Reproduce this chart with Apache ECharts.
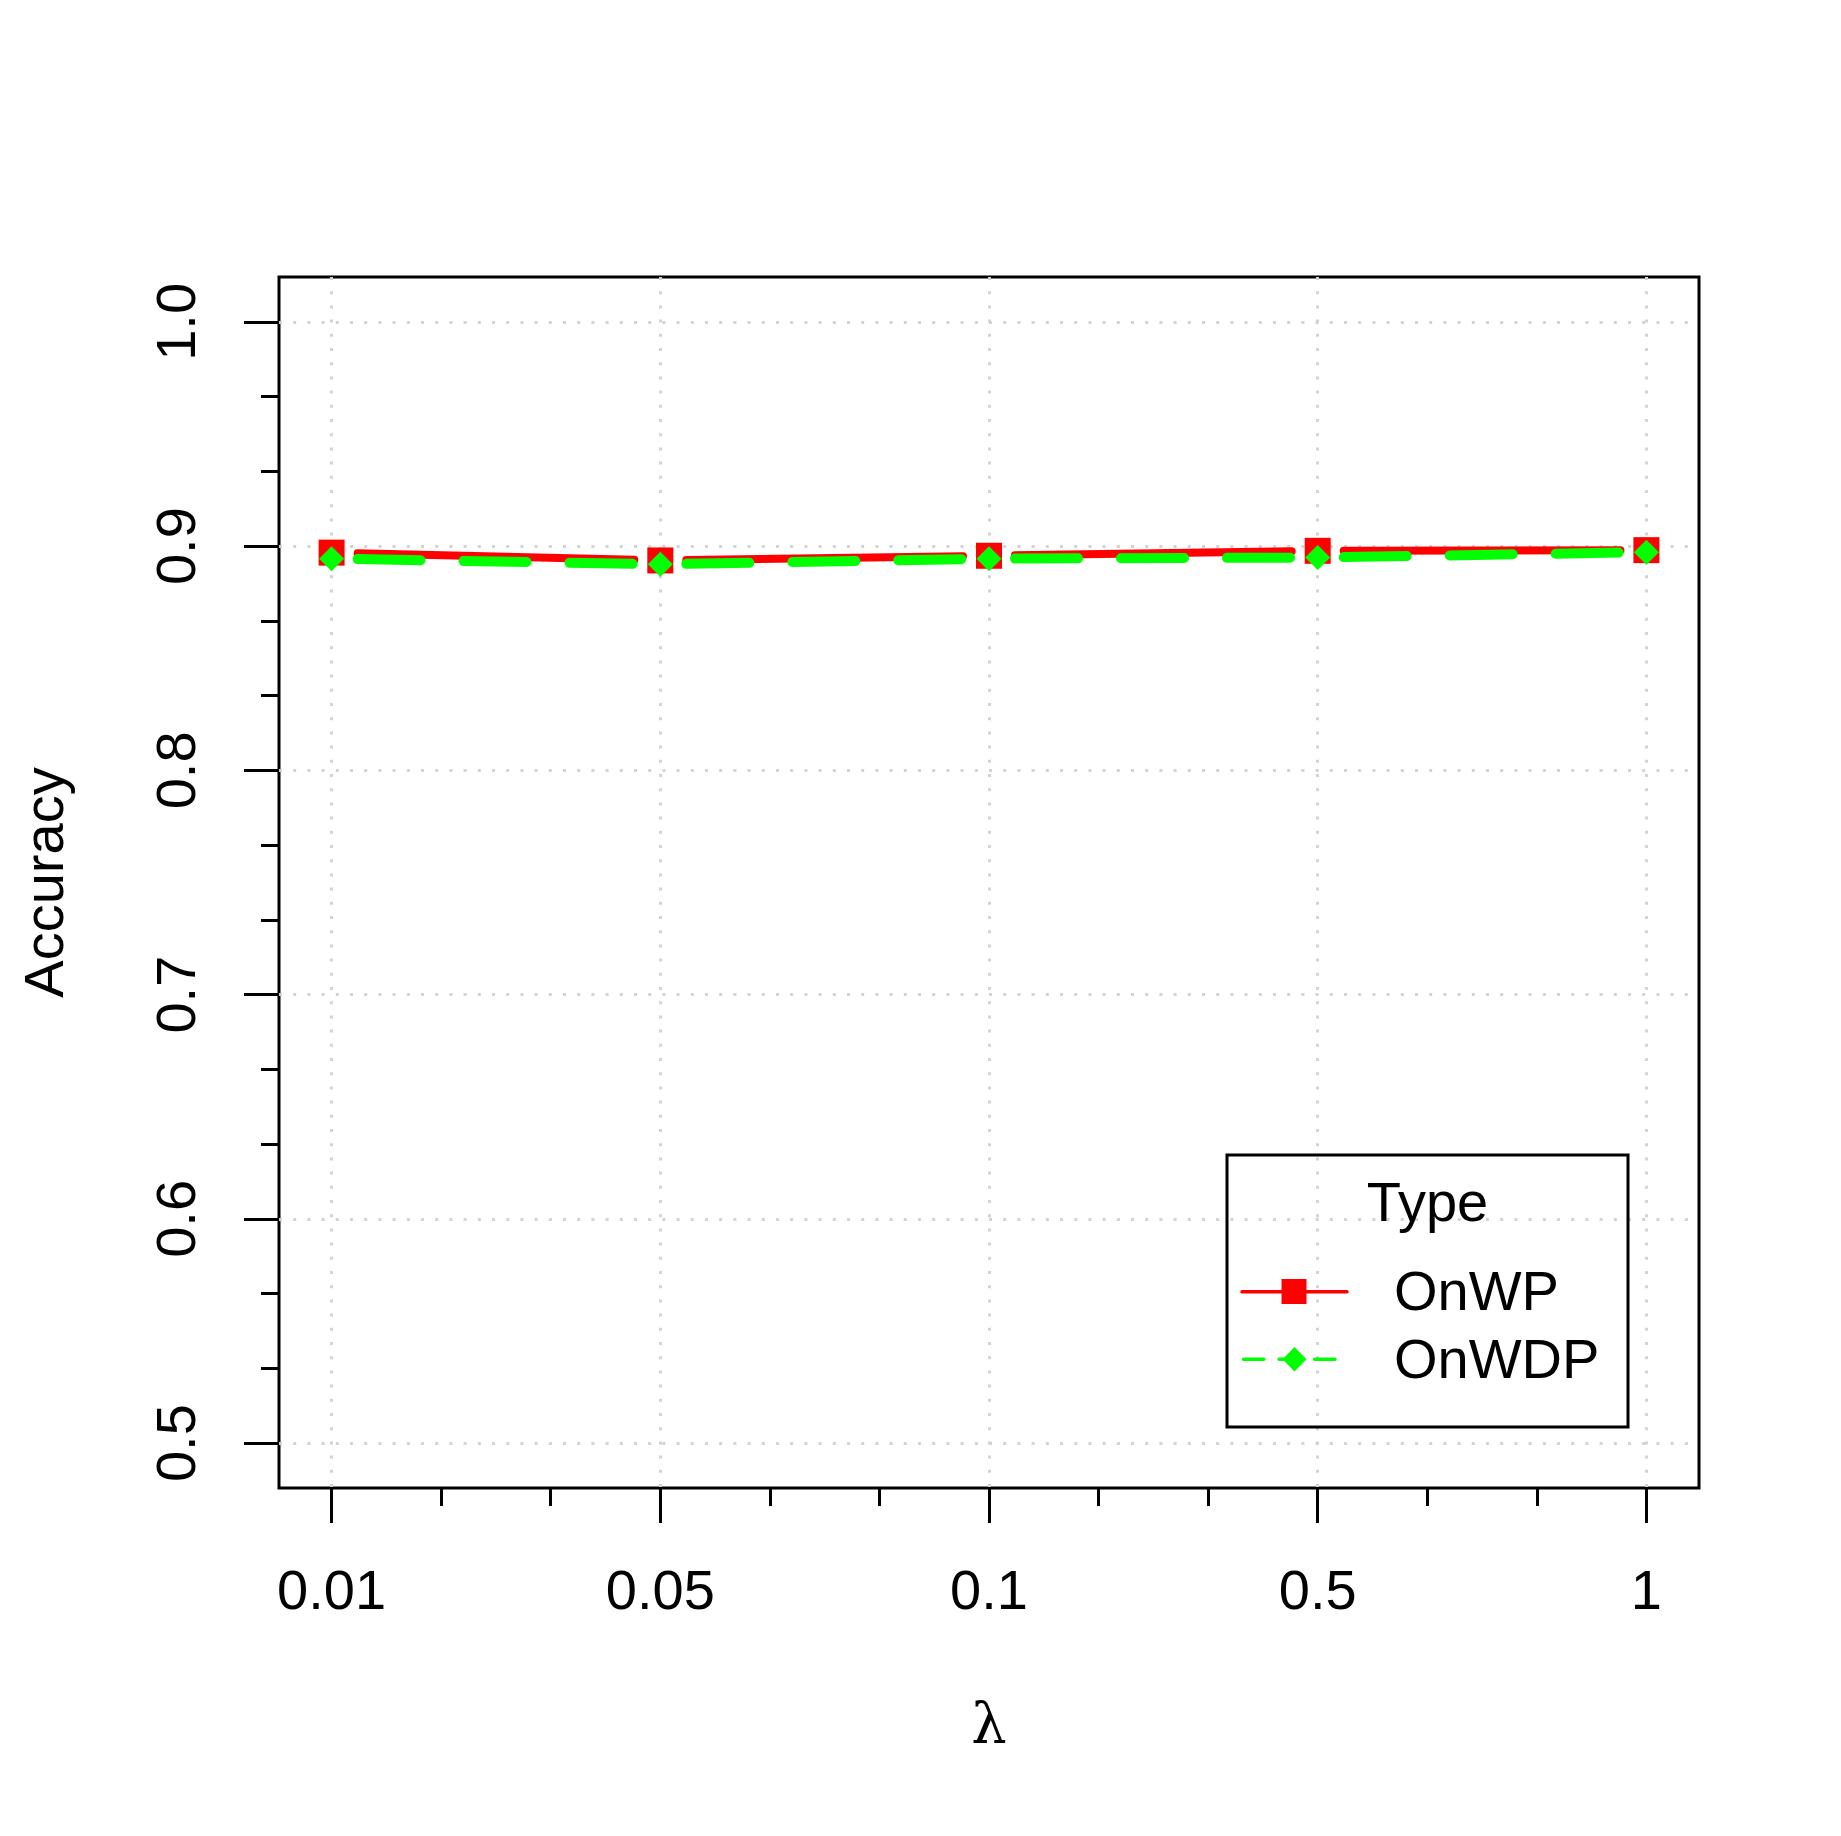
<!DOCTYPE html>
<html>
<head>
<meta charset="utf-8">
<script src="https://cdn.jsdelivr.net/npm/echarts@6/dist/echarts.min.js"></script>
<style>
  html, body { margin: 0; padding: 0; background: #fff; }
  #chart { width: 1841px; height: 1836px; }
</style>
</head>
<body>
<div id="chart"></div>
<script>
// lambda values on the x axis (equally spaced categories)
const lambdas = ['0.01', '0.05', '0.1', '0.5', '1']
// accuracy for each lambda
const onWP = [0.8971, 0.8936, 0.8957, 0.8979, 0.8982]
const onWDP = [0.8944, 0.8919, 0.8944, 0.8949, 0.8973]
// y axis ticks
const yMin = 0.5
const yMax = 1.0
const yStep = 0.1

// plot box (R style: axis ranges padded by 4%)
const box = { left: 279, top: 277, width: 1420, height: 1211 }
const xPad = (lambdas.length - 1) * 0.04
const yPad = (yMax - yMin) * 0.04
const xLo = 1 - xPad, xHi = lambdas.length + xPad
const yLo = yMin - yPad, yHi = yMax + yPad
const pxX = box.width / (xHi - xLo)
const pxY = box.height / (yHi - yLo)

const FONT = 'Liberation Sans'
const GAP = 26 // gap around points, like R type = "b"
const dotted = { color: '#d3d3d3', width: 3, type: [3, 11.2] }

let chart = echarts.init(document.getElementById('chart'))

function segments(values, color, width, dash, z) {
  let data = values.slice(1).map((v, i) => [i + 1, values[i], i + 2, v])
  return {
    type: 'custom',
    xAxisIndex: 0,
    yAxisIndex: 0,
    z: z,
    silent: true,
    encode: { x: [0, 2], y: [1, 3] },
    renderItem: (params, api) => {
      let a = api.coord([api.value(0), api.value(1)])
      let b = api.coord([api.value(2), api.value(3)])
      let dx = b[0] - a[0], dy = b[1] - a[1]
      let len = Math.hypot(dx, dy)
      let ux = dx / len, uy = dy / len
      return {
        type: 'line',
        shape: {
          x1: a[0] + ux * GAP, y1: a[1] + uy * GAP,
          x2: b[0] - ux * GAP, y2: b[1] - uy * GAP,
        },
        style: { stroke: color, lineWidth: width, lineDash: dash, lineCap: 'round', fill: null },
      }
    },
    data: data,
  }
}

// legend (R legend box with title)
const lg = { x1: 1227, y1: 1155, x2: 1628, y2: 1427 }
const legendGraphic = [
  { type: 'rect', shape: { x: lg.x1, y: lg.y1, width: lg.x2 - lg.x1, height: lg.y2 - lg.y1 },
    style: { fill: null, stroke: '#000', lineWidth: 3 }, z: 10 },
  { type: 'text', x: 1427.5, y: 1205.7, z: 10,
    style: { text: 'Type', fontSize: 56, fontFamily: FONT, fill: '#000',
      align: 'center', verticalAlign: 'middle', textAlign: 'center', textVerticalAlign: 'middle' } },
  { type: 'line', shape: { x1: 1242, y1: 1291.7, x2: 1347, y2: 1291.7 }, z: 10,
    style: { stroke: '#ff0000', lineWidth: 3.5, lineCap: 'round' } },
  { type: 'rect', shape: { x: 1281.5, y: 1279, width: 25, height: 25 }, z: 10,
    style: { fill: '#ff0000' } },
  { type: 'text', x: 1394, y: 1294.4, z: 10,
    style: { text: 'OnWP', fontSize: 56, fontFamily: FONT, fill: '#000',
      align: 'left', verticalAlign: 'middle', textAlign: 'left', textVerticalAlign: 'middle' } },
  { type: 'line', shape: { x1: 1243.5, y1: 1359.3, x2: 1347, y2: 1359.3 }, z: 10,
    style: { stroke: '#00ff00', lineWidth: 3.5, lineCap: 'round', lineDash: [20.3, 15.3] } },
  { type: 'polygon', z: 10,
    shape: { points: [[1294.5, 1347], [1306.5, 1359.3], [1294.5, 1371.6], [1282.5, 1359.3]] },
    style: { fill: '#00ff00' } },
  { type: 'text', x: 1394, y: 1362.2, z: 10,
    style: { text: 'OnWDP', fontSize: 56, fontFamily: FONT, fill: '#000',
      align: 'left', verticalAlign: 'middle', textAlign: 'left', textVerticalAlign: 'middle' } },
]

const hiddenAxis = { show: false, splitLine: { show: false } }

chart.setOption({
  animation: false,
  backgroundColor: '#fff',
  grid: [
    // 0: data + frame
    { left: box.left, top: box.top, width: box.width, height: box.height,
      show: true, borderColor: '#000', borderWidth: 3, backgroundColor: 'transparent' },
    // 1: x ticks, labels, vertical grid lines
    { left: box.left + xPad * pxX, top: box.top, width: (lambdas.length - 1) * pxX, height: box.height },
    // 2: y ticks, labels, horizontal grid lines
    { left: box.left, top: box.top + yPad * pxY, width: box.width, height: (yMax - yMin) * pxY },
  ],
  xAxis: [
    { ...hiddenAxis, type: 'value', gridIndex: 0, min: xLo, max: xHi },
    {
      type: 'value', gridIndex: 1, min: 1, max: lambdas.length, interval: 1,
      axisLine: { show: false },
      axisTick: { show: true, length: 35, lineStyle: { color: '#000', width: 3 } },
      minorTick: { show: true, splitNumber: 3, length: 18, lineStyle: { color: '#000', width: 3 } },
      splitLine: { show: true, lineStyle: dotted },
      axisLabel: {
        fontSize: 56, fontFamily: FONT, color: '#000', margin: 106,
        verticalAlign: 'middle',
        formatter: (v) => lambdas[Math.round(v) - 1] || '',
      },
      name: 'λ', nameLocation: 'middle', nameGap: 240,
      nameTextStyle: { fontSize: 56, fontFamily: 'DejaVu Serif', color: '#000', verticalAlign: 'middle' },
    },
    { ...hiddenAxis, type: 'value', gridIndex: 2, min: 0, max: 1 },
  ],
  yAxis: [
    { ...hiddenAxis, type: 'value', gridIndex: 0, min: yLo, max: yHi },
    { ...hiddenAxis, type: 'value', gridIndex: 1, min: 0, max: 1 },
    {
      type: 'value', gridIndex: 2, min: yMin, max: yMax, interval: yStep,
      axisLine: { show: false },
      axisTick: { show: true, length: 35, lineStyle: { color: '#000', width: 3 } },
      minorTick: { show: true, splitNumber: 3, length: 18, lineStyle: { color: '#000', width: 3 } },
      splitLine: { show: true, lineStyle: dotted },
      axisLabel: {
        fontSize: 56, fontFamily: FONT, color: '#000', margin: 99,
        rotate: 90, align: 'center', verticalAlign: 'middle',
        formatter: (v) => v.toFixed(1),
      },
      name: 'Accuracy', nameLocation: 'middle', nameGap: 231, nameRotate: 90,
      nameTextStyle: { fontSize: 56, fontFamily: FONT, color: '#000', align: 'center', verticalAlign: 'middle' },
    },
  ],
  series: [
    segments(onWP, '#ff0000', 8, null, 2),
    {
      name: 'OnWP', type: 'scatter', xAxisIndex: 0, yAxisIndex: 0, z: 3,
      symbol: 'rect', symbolSize: 26, itemStyle: { color: '#ff0000', opacity: 1 },
      data: onWP.map((v, i) => [i + 1, v]),
    },
    segments(onWDP, '#00ff00', 10, [63, 43], 4),
    {
      name: 'OnWDP', type: 'scatter', xAxisIndex: 0, yAxisIndex: 0, z: 5,
      symbol: 'diamond', symbolSize: 25, itemStyle: { color: '#00ff00', opacity: 1 },
      data: onWDP.map((v, i) => [i + 1, v]),
    },
  ],
  graphic: legendGraphic,
})
</script>
</body>
</html>
